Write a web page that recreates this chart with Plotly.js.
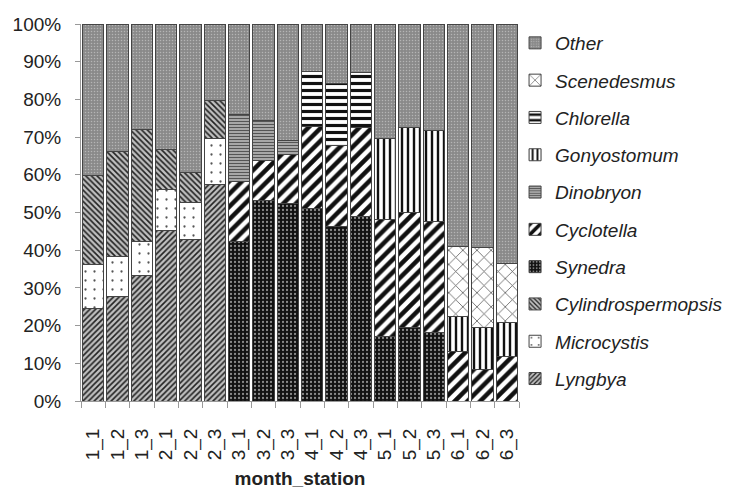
<!DOCTYPE html>
<html>
<head>
<meta charset="utf-8">
<script src="https://cdn.plot.ly/plotly-3.0.1.min.js"></script>
<style>html,body{margin:0;padding:0;background:#fff;}#chart{width:746px;height:489px;}</style>
</head>
<body>
<div id="chart"></div>
<script>
var categories = ['1_1','1_2','1_3','2_1','2_2','2_3','3_1','3_2','3_3','4_1','4_2','4_3','5_1','5_2','5_3','6_1','6_2','6_3'];

var lyngbya            = [24.5, 27.7, 33.3, 45.1, 42.9, 57.3, 0, 0, 0, 0, 0, 0, 0, 0, 0, 0, 0, 0];
var microcystis        = [11.8, 10.6, 9.1, 11.1, 9.8, 12.3, 0, 0, 0, 0, 0, 0, 0, 0, 0, 0, 0, 0];
var cylindrospermopsis = [23.4, 27.8, 29.5, 10.4, 8.0, 10.2, 0, 0, 0, 0, 0, 0, 0, 0, 0, 0, 0, 0];
var synedra            = [0, 0, 0, 0, 0, 0, 42.4, 53.3, 52.3, 51.1, 46.2, 48.9, 17.2, 19.5, 18.1, 0, 0, 0];
var cyclotella         = [0, 0, 0, 0, 0, 0, 15.8, 10.6, 13.0, 21.7, 21.7, 23.7, 31.0, 30.5, 29.5, 13.1, 8.4, 11.9];
var dinobryon          = [0, 0, 0, 0, 0, 0, 17.9, 10.4, 3.9, 0, 0, 0, 0, 0, 0, 0, 0, 0];
var gonyostomum        = [0, 0, 0, 0, 0, 0, 0, 0, 0, 0, 0, 0, 21.3, 22.6, 24.1, 9.4, 11.1, 8.9];
var chlorella          = [0, 0, 0, 0, 0, 0, 0, 0, 0, 14.6, 16.4, 14.5, 0, 0, 0, 0, 0, 0];
var scenedesmus        = [0, 0, 0, 0, 0, 0, 0, 0, 0, 0, 0, 0, 0, 0, 0, 18.5, 21.3, 15.7];
var other              = [40.3, 33.9, 28.1, 33.4, 39.3, 20.2, 23.9, 25.7, 30.8, 12.6, 15.7, 12.9, 30.5, 27.4, 28.3, 59.0, 59.2, 63.5];

var series = [
  {name: 'Lyngbya', y: lyngbya, pat: {shape: '/', bgcolor: '#c0c0c0', fgcolor: '#222', size: 4, solidity: 0.4}},
  {name: 'Microcystis', y: microcystis, pat: {shape: '.', bgcolor: '#ffffff', fgcolor: '#555', size: 9, solidity: 0.05}},
  {name: 'Cylindrospermopsis', y: cylindrospermopsis, pat: {shape: '\\', bgcolor: '#c0c0c0', fgcolor: '#222', size: 4, solidity: 0.4}},
  {name: 'Synedra', y: synedra, pat: {shape: '.', bgcolor: '#111111', fgcolor: '#8a8a8a', size: 4, solidity: 0.25}},
  {name: 'Cyclotella', y: cyclotella, pat: {shape: '/', bgcolor: '#ffffff', fgcolor: '#111', size: 9, solidity: 0.5}},
  {name: 'Dinobryon', y: dinobryon, pat: {shape: '-', bgcolor: '#b0b0b0', fgcolor: '#555', size: 3, solidity: 0.4}},
  {name: 'Gonyostomum', y: gonyostomum, pat: {shape: '|', bgcolor: '#ffffff', fgcolor: '#111', size: 6, solidity: 0.4}},
  {name: 'Chlorella', y: chlorella, pat: {shape: '-', bgcolor: '#ffffff', fgcolor: '#111', size: 7, solidity: 0.45}},
  {name: 'Scenedesmus', y: scenedesmus, pat: {shape: 'x', bgcolor: '#ffffff', fgcolor: '#555', size: 10, solidity: 0.15}},
  {name: 'Other', y: other, pat: {shape: '.', bgcolor: '#8a8a8a', fgcolor: '#b5b5b5', size: 3, solidity: 0.2}}
];

var traces = series.map(function (s, i) {
  return {
    type: 'bar',
    name: '<i>' + s.name + '</i>',
    x: categories,
    y: s.y,
    legendgroup: 'g' + i,
    legendrank: 1000 - i,
    marker: {
      color: s.pat.bgcolor,
      pattern: {shape: s.pat.shape, bgcolor: s.pat.bgcolor, fgcolor: s.pat.fgcolor, size: s.pat.size, solidity: s.pat.solidity, fillmode: 'replace'},
      line: {color: '#444', width: 1}
    },
    hoverinfo: 'skip'
  };
});

var layout = {
  width: 746,
  height: 489,
  margin: {l: 81, r: 227, t: 24, b: 88},
  barmode: 'stack',
  bargap: 0.12,
  paper_bgcolor: '#ffffff',
  plot_bgcolor: '#ffffff',
  font: {family: '"Liberation Sans", Arial, sans-serif', color: '#222', size: 16},
  showlegend: true,
  legend: {
    traceorder: 'grouped',
    x: 0.991, xanchor: 'left',
    y: 1.0, yanchor: 'top',
    tracegroupgap: 9.6,
    font: {size: 19, color: '#222'},
    bgcolor: 'rgba(0,0,0,0)'
  },
  xaxis: {
    type: 'category',
    tickangle: -90,
    tickson: 'boundaries',
    ticks: 'outside',
    ticklen: 6,
    tickcolor: '#999',
    ticklabelstandoff: 19,
    showline: true,
    linecolor: '#999',
    linewidth: 1,
    showgrid: false,
    tickfont: {size: 19, color: '#222'},
    title: {text: '<b>month_station</b>', font: {size: 19, color: '#222'}, standoff: 14}
  },
  yaxis: {
    range: [0, 100],
    dtick: 10,
    ticksuffix: '%',
    ticks: 'outside',
    ticklen: 5,
    tickcolor: '#999',
    ticklabelstandoff: 10,
    showline: true,
    linecolor: '#999',
    linewidth: 1,
    showgrid: false,
    zeroline: false,
    tickfont: {size: 19, color: '#222'}
  }
};

Plotly.newPlot('chart', traces, layout, {displayModeBar: false, staticPlot: true});
</script>
</body>
</html>
